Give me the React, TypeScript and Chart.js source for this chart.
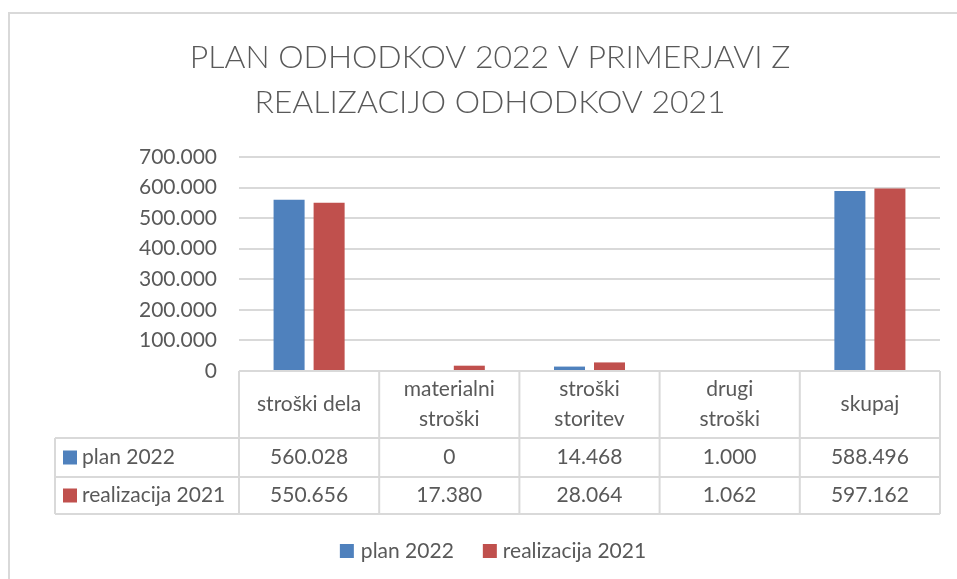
import React, { useEffect, useRef } from 'react';
import { Chart, registerables } from 'chart.js';

Chart.register(...registerables);

const titleLines = ['PLAN ODHODKOV 2022 V PRIMERJAVI Z', 'REALIZACIJO ODHODKOV 2021'];
const categories = [['stroški dela'], ['materialni', 'stroški'], ['stroški', 'storitev'], ['drugi', 'stroški'], ['skupaj']];
const seriesNames = ['plan 2022', 'realizacija 2021'];
const plan2022 = [560028, 0, 14468, 1000, 588496];
const realizacija2021 = [550656, 17380, 28064, 1062, 597162];
const yMin = 0;
const yMax = 700000;
const yStep = 100000;
const seriesColors = ['#4F81BD', '#C0504D'];

const TEXT = '#595959';
const LINE = '#D9D9D9';
const FONT = 'Lato, "Open Sans", sans-serif';

function fmt(n: number): string {
  const s = Math.round(Math.abs(n)).toString();
  let out = '';
  for (let i = 0; i < s.length; i++) {
    if (i > 0 && (s.length - i) % 3 === 0) out += '.';
    out += s[i];
  }
  return (n < 0 ? '-' : '') + out;
}

const tablePlugin = {
  id: 'excelTable',
  afterDraw(chart: any) {
    const ctx = chart.ctx;
    const ca = chart.chartArea;
    const seriesData = [plan2022, realizacija2021];
    ctx.save();

    // outer frame
    ctx.strokeStyle = LINE;
    ctx.lineWidth = 2;
    ctx.strokeRect(9, 13, 1000, 1000);

    // title
    ctx.fillStyle = TEXT;
    ctx.font = '300 32px ' + FONT;
    ctx.textAlign = 'center';
    ctx.textBaseline = 'alphabetic';
    ctx.fillText(titleLines[0], 490, 68);
    ctx.fillText(titleLines[1], 490, 113);

    // data table
    const left = ca.left;
    const right = ca.right;
    const n = categories.length;
    const w = (right - left) / n;
    const y0 = ca.bottom;
    const y1 = y0 + 67;
    const y2 = y1 + 39;
    const y3 = y2 + 37;
    const legLeft = 55;

    ctx.strokeStyle = LINE;
    ctx.lineWidth = 2;
    ctx.beginPath();
    ctx.moveTo(left, y0); ctx.lineTo(right, y0);
    ctx.moveTo(legLeft, y1); ctx.lineTo(right, y1);
    ctx.moveTo(legLeft, y2); ctx.lineTo(right, y2);
    ctx.moveTo(legLeft, y3); ctx.lineTo(right, y3);
    for (let i = 0; i <= n; i++) {
      const x = left + i * w;
      ctx.moveTo(x, y0); ctx.lineTo(x, y3);
    }
    ctx.moveTo(legLeft, y1); ctx.lineTo(legLeft, y3);
    ctx.stroke();

    ctx.font = '21px ' + FONT;
    ctx.fillStyle = TEXT;
    ctx.textAlign = 'center';
    ctx.textBaseline = 'middle';
    const hMid = (y0 + y1) / 2;
    categories.forEach((lines, i) => {
      const cx = left + (i + 0.5) * w;
      if (lines.length === 1) {
        ctx.fillText(lines[0], cx, hMid);
      } else {
        ctx.fillText(lines[0], cx, hMid - 15);
        ctx.fillText(lines[1], cx, hMid + 15);
      }
    });
    const rowMids = [(y1 + y2) / 2, (y2 + y3) / 2];
    seriesData.forEach((arr, r) => {
      arr.forEach((v, i) => {
        const cx = left + (i + 0.5) * w;
        ctx.fillText(fmt(v), cx, rowMids[r]);
      });
    });
    ctx.textAlign = 'left';
    seriesNames.forEach((name, r) => {
      ctx.fillStyle = seriesColors[r];
      ctx.fillRect(63, rowMids[r] - 7, 14, 14);
      ctx.fillStyle = TEXT;
      ctx.fillText(name, 82, rowMids[r]);
    });

    // bottom legend
    const w1 = ctx.measureText(seriesNames[0]).width;
    const w2 = ctx.measureText(seriesNames[1]).width;
    const total = 14 + 7 + w1 + 29 + 14 + 6 + w2;
    let lx = 493 - total / 2;
    const ly = 551;
    ctx.fillStyle = seriesColors[0];
    ctx.fillRect(lx, ly - 7, 14, 14);
    ctx.fillStyle = TEXT;
    ctx.fillText(seriesNames[0], lx + 21, ly);
    lx += 21 + w1 + 29;
    ctx.fillStyle = seriesColors[1];
    ctx.fillRect(lx, ly - 7, 14, 14);
    ctx.fillStyle = TEXT;
    ctx.fillText(seriesNames[1], lx + 20, ly);

    ctx.restore();
  },
};

export default function App() {
  const ref = useRef<HTMLCanvasElement | null>(null);

  useEffect(() => {
    if (!ref.current) return;
    const chart = new Chart(ref.current, {
      type: 'bar',
      data: {
        labels: categories.map((c) => c.join(' ')),
        datasets: [
          {
            label: seriesNames[0],
            data: plan2022,
            backgroundColor: seriesColors[0],
            borderWidth: 0,
            categoryPercentage: 0.571,
            barPercentage: 0.775,
          },
          {
            label: seriesNames[1],
            data: realizacija2021,
            backgroundColor: seriesColors[1],
            borderWidth: 0,
            categoryPercentage: 0.571,
            barPercentage: 0.775,
          },
        ],
      },
      options: {
        responsive: false,
        maintainAspectRatio: false,
        animation: false,
        layout: { padding: { top: 157, right: 17, left: 0, bottom: 0 } },
        plugins: {
          legend: { display: false },
          title: { display: false },
          tooltip: { enabled: false },
        },
        scales: {
          x: {
            grid: { display: false },
            border: { display: false },
            ticks: { display: false },
            afterFit: (scale: any) => {
              scale.height = 208;
            },
          },
          y: {
            min: yMin,
            max: yMax,
            grid: { color: LINE, lineWidth: 2, drawTicks: false },
            border: { display: false },
            ticks: {
              stepSize: yStep,
              padding: 22,
              color: TEXT,
              font: { family: FONT, size: 21 },
              callback: (v: any) => fmt(Number(v)),
            },
            afterFit: (scale: any) => {
              scale.width = 239;
            },
          },
        },
      },
      plugins: [tablePlugin],
    });
    return () => chart.destroy();
  }, []);

  return (
    <div style={{ position: 'fixed', left: 0, top: 0, width: 957, height: 579, background: '#fff' }}>
      <canvas ref={ref} width={957} height={579} style={{ display: 'block' }} />
    </div>
  );
}
